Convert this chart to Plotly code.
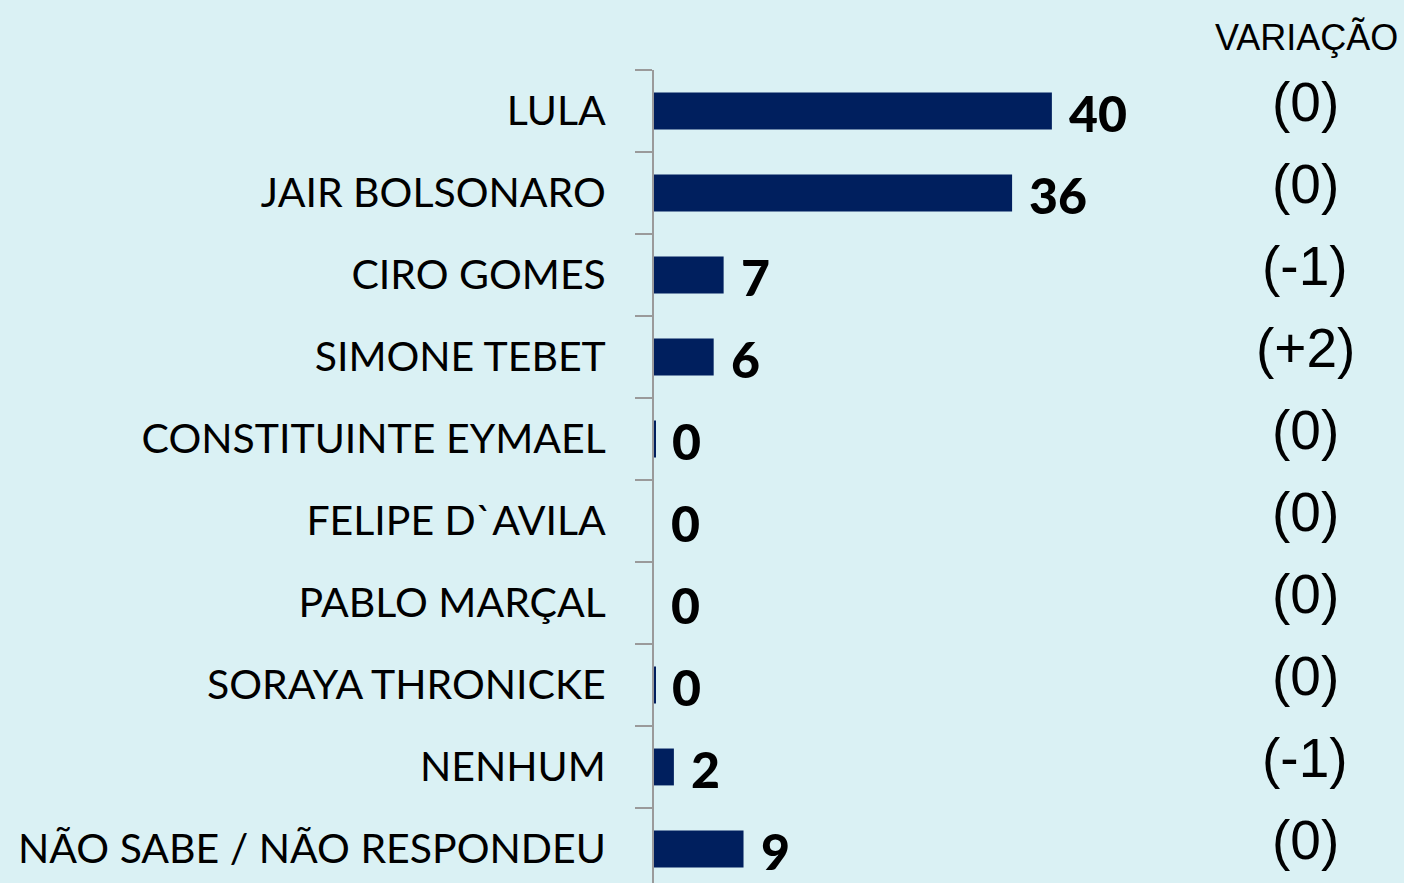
import plotly.graph_objects as go

# candidates, top to bottom
candidates = [
    "LULA", "JAIR BOLSONARO", "CIRO GOMES", "SIMONE TEBET",
    "CONSTITUINTE EYMAEL", "FELIPE D`AVILA", "PABLO MARÇAL",
    "SORAYA THRONICKE", "NENHUM", "NÃO SABE / NÃO RESPONDEU",
]
# vote share (%) - the tiny values show as a hairline bar, rounded to 0 in the label
votes = [40, 36, 7, 6, 0.15, 0, 0, 0.15, 2, 9]
# change from previous poll
variation = ["(0)", "(0)", "(-1)", "(+2)", "(0)", "(0)", "(0)", "(0)", "(-1)", "(0)"]

BG = "#DAF1F4"
NAVY = "#001F5E"

fig = go.Figure()

fig.add_trace(go.Bar(
    x=votes,
    y=candidates,
    orientation="h",
    width=0.45,
    marker=dict(color=NAVY, line=dict(width=0)),
    hoverinfo="x+y",
    showlegend=False,
))

# value labels next to bars
for name, v in zip(candidates, votes):
    fig.add_annotation(
        x=v, y=name, xref="x", yref="y",
        text=f"{round(v)}",
        showarrow=False, xanchor="left", yanchor="middle",
        xshift=15, yshift=-2,
        font=dict(family="Lato", size=50, color="black", weight=900),
    )

# variation column
for name, var in zip(candidates, variation):
    fig.add_annotation(
        x=0.868, y=name, xref="paper", yref="y",
        text=var,
        showarrow=False, xanchor="center", yanchor="middle",
        yshift=9,
        font=dict(family="Liberation Sans", size=55, color="black"),
    )

fig.add_annotation(
    x=0.870, y=1.0, xref="paper", yref="paper",
    text="VARIAÇÃO",
    showarrow=False, xanchor="center", yanchor="bottom",
    yshift=10,
    font=dict(family="Liberation Sans", size=36, color="black"),
)

fig.update_layout(
    width=1404,
    height=883,
    paper_bgcolor=BG,
    plot_bgcolor=BG,
    margin=dict(l=654, r=0, t=70, b=0),
    bargap=0.55,
    xaxis=dict(
        range=[0, 75.4],
        showgrid=False, zeroline=False, showticklabels=False,
        showline=False, fixedrange=True,
    ),
    yaxis=dict(
        type="category",
        categoryorder="array",
        categoryarray=candidates,
        range=[9.415, -0.5],
        showgrid=False, zeroline=False,
        showline=True, linecolor="#9A9A9A", linewidth=2,
        ticks="outside", tickson="boundaries",
        ticklen=17, tickwidth=2, tickcolor="#9A9A9A",
        ticklabelstandoff=38,
        tickfont=dict(family="Lato", size=41, color="black"),
        automargin=False,
        fixedrange=True,
    ),
)

fig.write_html(
    "out.html",
    config={"displayModeBar": False},
    post_script="document.body.style.margin='0';",
)
